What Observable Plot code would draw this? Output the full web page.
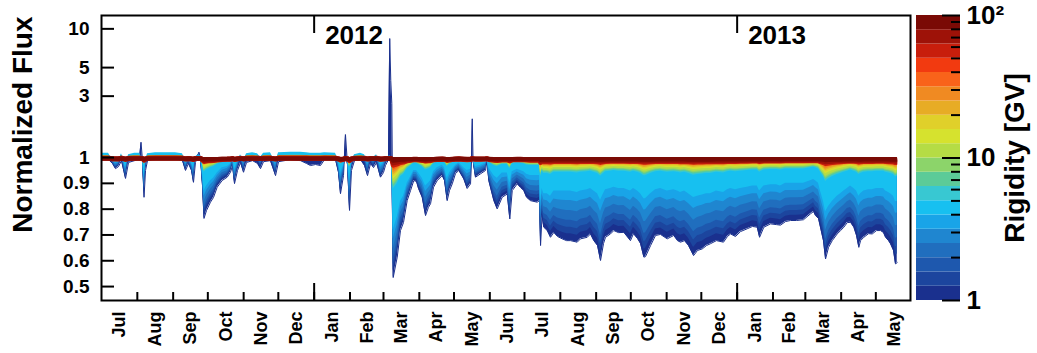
<!DOCTYPE html>
<html><head><meta charset="utf-8">
<script src="https://cdn.jsdelivr.net/npm/d3@7"></script>
<script src="https://cdn.jsdelivr.net/npm/@observablehq/plot@0.6"></script>
<style>
html,body{margin:0;padding:0;background:#fff;}
#chart{position:relative;width:1037px;height:353px;}
#chart svg{position:absolute;top:0;}
</style></head><body><div id="chart"></div>
<script>
// ---------- data ----------
const startDate = "2011-07-01";
const endDate = "2013-05-31";
// days since 2011-07-01
const dayIndex = [0.0, 6.1, 9.5, 12.1, 14.7, 17.3, 20.8, 23.4, 28.6, 32.9,
 34.2, 35.5, 36.8, 38.1, 39.8, 46.7, 55.4, 64.0, 70.1, 72.7,
 75.3, 77.9, 79.6, 81.3, 84.4, 85.7, 87.4, 88.7, 90.9, 94.3,
 96.9, 100.1, 104.4, 108.8, 111.6, 113.4, 115.1, 117.7, 120.3, 122.9,
 125.5, 130.7, 135.0, 137.6, 140.2, 146.2, 150.6, 153.2, 163.5, 172.2,
 177.4, 180.8, 185.2, 189.5, 193.0, 202.5, 205.1, 206.8, 209.4, 211.1,
 212.9, 214.6, 216.3, 218.9, 224.1, 227.6, 230.2, 232.8, 235.4, 238.0,
 241.4, 244.0, 245.7, 248.3, 249.4, 250.3, 251.2, 252.4, 255.9, 258.7,
 261.3, 264.5, 267.4, 270.2, 272.6, 274.3, 277.5, 280.4, 282.9, 284.7,
 287.3, 290.5, 294.8, 296.8, 299.1, 301.1, 303.5, 306.3, 309.2, 313.5,
 316.4, 319.3, 320.2, 320.8, 321.5, 323.6, 328.0, 332.3, 333.6, 335.1,
 339.5, 342.4, 346.7, 351.1, 353.3, 355.4, 359.7, 362.6, 365.4, 367.8,
 371.2, 377.0, 379.0, 379.9, 381.2, 382.7, 385.7, 388.5, 391.4, 394.6,
 398.6, 402.4, 405.8, 411.6, 414.5, 420.3, 423.1, 426.0, 429.2, 431.8,
 434.4, 436.1, 440.4, 443.3, 447.4, 452.0, 457.7, 460.3, 463.8, 466.4,
 469.3, 470.7, 475.1, 479.4, 483.7, 489.5, 495.2, 498.4, 501.0, 504.5,
 507.9, 512.3, 515.7, 519.8, 523.5, 526.9, 532.1, 538.2, 541.6, 544.3,
 548.6, 552.9, 558.7, 563.3, 567.4, 569.4, 573.1, 578.9, 584.1, 587.5,
 591.9, 596.2, 601.4, 607.4, 613.5, 616.1, 617.8, 620.4, 622.1, 624.7,
 626.5, 629.1, 632.3, 636.6, 639.5, 642.3, 645.3, 648.1, 651.0, 653.3,
 655.3, 656.8, 659.6, 663.7, 666.9, 670.6, 674.1, 676.7, 678.4, 681.0,
 682.7, 685.3, 687.0, 688.5];
// normalized flux of the lowest rigidity bin (lower / upper envelope)
const flux1GV = [0.996, 0.992, 0.977, 0.957, 0.965, 0.988, 0.919, 0.981, 0.988, 0.996,
 1.315, 0.988, 0.846, 0.950, 0.988, 0.996, 0.996, 0.996, 0.988, 0.950,
 0.977, 0.950, 0.904, 0.981, 1.099, 0.996, 0.891, 0.764, 0.795, 0.827,
 0.845, 0.885, 0.911, 0.924, 0.943, 0.969, 0.899, 0.950, 0.981, 0.943,
 0.981, 0.988, 0.977, 0.957, 0.984, 0.988, 0.930, 0.984, 0.992, 0.988,
 0.977, 0.969, 0.973, 0.969, 0.992, 0.992, 0.942, 0.860, 0.930, 1.509,
 0.969, 0.795, 0.950, 0.988, 0.992, 0.969, 0.930, 0.977, 0.961, 0.981,
 0.924, 0.942, 0.969, 0.992, 8.41, 3.97, 2.63, 0.535, 0.614, 0.717,
 0.748, 0.833, 0.872, 0.911, 0.907, 0.880, 0.846, 0.775, 0.807, 0.821,
 0.885, 0.911, 0.930, 0.911, 0.833, 0.872, 0.898, 0.938, 0.950, 0.917,
 0.880, 0.898, 0.988, 2.00, 0.988, 0.924, 0.937, 0.950, 0.988, 0.911,
 0.833, 0.801, 0.846, 0.859, 0.762, 0.872, 0.898, 0.884, 0.872, 0.846,
 0.833, 0.827, 0.833, 0.659, 0.775, 0.730, 0.717, 0.691, 0.710, 0.694,
 0.685, 0.678, 0.678, 0.672, 0.685, 0.691, 0.704, 0.678, 0.659, 0.601,
 0.667, 0.691, 0.704, 0.717, 0.709, 0.710, 0.678, 0.705, 0.686, 0.667,
 0.614, 0.616, 0.659, 0.698, 0.702, 0.685, 0.698, 0.678, 0.672, 0.678,
 0.659, 0.620, 0.640, 0.646, 0.659, 0.666, 0.678, 0.672, 0.694, 0.704,
 0.694, 0.713, 0.724, 0.733, 0.730, 0.691, 0.730, 0.743, 0.740, 0.738,
 0.752, 0.756, 0.756, 0.759, 0.782, 0.791, 0.775, 0.764, 0.730, 0.678,
 0.607, 0.652, 0.678, 0.704, 0.717, 0.730, 0.748, 0.749, 0.730, 0.698,
 0.652, 0.678, 0.691, 0.705, 0.704, 0.717, 0.717, 0.709, 0.691, 0.678,
 0.666, 0.640, 0.588, 0.593];
// normalized flux of the ~4.5 GV bin (cyan level)
const flux4GV = [1.08, 1.08, 0.99, 0.98, 0.985, 1.07, 0.963, 1.05, 1.08, 1.08,
 1.02, 1.0, 0.93, 0.98, 1.07, 1.09, 1.09, 1.09, 1.07, 0.98,
 1.0, 0.98, 0.96, 1.02, 1.03, 1.03, 0.94, 0.87, 0.89, 0.91,
 0.92, 0.94, 0.96, 0.965, 0.975, 1.0, 0.955, 0.985, 1.05, 0.985,
 1.07, 1.09, 1.07, 1.0, 1.08, 1.09, 0.98, 1.09, 1.10, 1.10,
 1.09, 1.08, 1.08, 1.08, 1.09, 1.08, 0.98, 0.94, 0.97, 1.02,
 0.99, 0.91, 0.98, 1.05, 1.08, 1.05, 0.98, 1.02, 1.0, 1.05,
 0.97, 0.98, 1.0, 1.02, 1.03, 1.0, 0.97, 0.72, 0.77, 0.83,
 0.85, 0.90, 0.925, 0.95, 0.95, 0.94, 0.92, 0.89, 0.90, 0.91,
 0.945, 0.96, 0.97, 0.96, 0.92, 0.94, 0.955, 0.97, 0.98, 0.96,
 0.95, 0.955, 0.99, 1.0, 0.99, 0.965, 0.97, 0.98, 0.99, 0.96,
 0.93, 0.92, 0.94, 0.94, 0.90, 0.945, 0.955, 0.95, 0.945, 0.935,
 0.93, 0.93, 0.93, 0.83, 0.88, 0.86, 0.86, 0.85, 0.87, 0.87,
 0.87, 0.87, 0.87, 0.865, 0.87, 0.875, 0.88, 0.87, 0.86, 0.835,
 0.86, 0.875, 0.88, 0.885, 0.88, 0.88, 0.87, 0.88, 0.87, 0.86,
 0.84, 0.84, 0.86, 0.875, 0.88, 0.87, 0.875, 0.87, 0.865, 0.87,
 0.86, 0.845, 0.85, 0.855, 0.86, 0.86, 0.87, 0.865, 0.875, 0.88,
 0.875, 0.88, 0.885, 0.89, 0.89, 0.87, 0.89, 0.895, 0.895, 0.89,
 0.90, 0.90, 0.90, 0.90, 0.91, 0.915, 0.91, 0.90, 0.87, 0.83,
 0.79, 0.81, 0.83, 0.85, 0.86, 0.87, 0.88, 0.89, 0.88, 0.87,
 0.85, 0.86, 0.87, 0.875, 0.875, 0.88, 0.88, 0.88, 0.87, 0.865,
 0.86, 0.85, 0.83, 0.83];
const binRigidity = [1.12, 1.41, 1.78, 2.24, 2.82, 3.55, 4.47, 5.62, 7.08, 8.91,
 11.2, 14.1, 17.8, 22.4, 28.2, 35.5, 44.7, 56.2, 70.8, 89.1];
const lowWeight = [0, 0.14, 0.27, 0.41, 0.61, 0.81, 1];           // bins 0-6: blend 1 GV -> 4.5 GV
const highResponse = [0.44, 0.41, 0.38, 0.35, 0.30, 0.27, 0.24, 0.21, 0.18, 0.15, 0.09, 0.06, 0.03]; // bins 7-19 vs 4.5 GV
const paletteThresholds = [1.259, 1.585, 1.995, 2.512, 3.162, 3.981, 5.012, 6.310, 7.943, 10,
 12.59, 15.85, 19.95, 25.12, 31.62, 39.81, 50.12, 63.10, 79.43];
const paletteColors = ["#1a308e", "#1c459e", "#1e58ae", "#206ebe", "#1f86d0", "#19a4e8", "#17c0f0",
 "#38c8d2", "#5ccb98", "#8cd46a", "#b5dc45", "#d6e22e", "#e0d02a", "#e7ac25", "#f08a22",
 "#f9631a", "#f23a10", "#c81e0c", "#9e1208", "#7a0a05"];
const yTickValues = [0.5, 0.6, 0.7, 0.8, 0.9, 1, 3, 5, 10];
const yTickLabels = ["0.5", "0.6", "0.7", "0.8", "0.9", "1", "3", "5", "10"];
const yDomain = [0.446, 12.7];
const monthLabels = ["Jul", "Aug", "Sep", "Oct", "Nov", "Dec", "Jan", "Feb", "Mar", "Apr", "May", "Jun",
 "Jul", "Aug", "Sep", "Oct", "Nov", "Dec", "Jan", "Feb", "Mar", "Apr", "May"];
const yearLabels = ["2012", "2013"];
const yearStarts = ["2012-01-01", "2013-01-01"];
const cbMajor = [1, 10, 100];
const cbMajorLabels = ["1", "10", "10\u00B2"];
const cbMinor = [2, 3, 4, 5, 6, 7, 8, 9, 20, 30, 40, 50, 60, 70, 80, 90];

// ---------- build ----------
const font = "font-family:'Liberation Sans',Arial,Helvetica,sans-serif;background:transparent;overflow:visible";
// axis: logarithmic above 1, linear below 1 (one decade ~ 0.5 flux units)
const fy = v => v >= 1 ? Math.log10(v) : 2.005 * (v - 1);
const t0 = new Date(startDate + "T00:00Z").getTime();
const toDate = d => new Date(t0 + d * 864e5);
const xStart = new Date(startDate + "T00:00Z"), xEnd = new Date(endDate + "T00:00Z");

const series = binRigidity.map((R, b) => dayIndex.map((d, j) => {
  const L = flux1GV[j], M = flux4GV[j];
  let v;
  if (b < lowWeight.length) {
    const w = L > 1.2 ? (b === 0 ? 0 : 1) : lowWeight[b];
    v = L + w * (M - L);
  } else {
    v = 1 + (M - 1) * highResponse[b - lowWeight.length];
  }
  return {date: toDate(d), R, base: fy(1), y: fy(v)};
}));

const W = 1037, H = 353, mL = 101, mR = 127, mT = 15, mB = 53;
const plotW = W - mL - mR, plotH = H - mT - mB;
const color = {type: "threshold", domain: paletteThresholds, range: paletteColors};

const monthStarts = d3.utcMonth.range(xStart, new Date(Date.UTC(2013, 5, 1)));
const monthMids = monthStarts.map(m => new Date((m.getTime() + d3.utcMonth.offset(m, 1).getTime()) / 2));
const yearDates = yearStarts.map(s => new Date(s + "T00:00Z"));

const dataMarks = series.flatMap((rows, b) => {
  const marks = [Plot.areaY(rows, {x: "date", y1: "base", y2: "y", fill: "R", clip: true})];
  if (b === 0) marks.push(Plot.line(rows, {x: "date", y: "y", stroke: "R", strokeWidth: 1, clip: true}));
  if (b >= 17) marks.push(Plot.line(rows, {x: "date", y: "y", stroke: "R", dy: 1, strokeWidth: b === 19 ? 4 : 5,
    strokeLinecap: "butt", clip: true}));
  return marks;
});

const main = Plot.plot({
  width: W, height: H, marginLeft: mL, marginRight: mR, marginTop: mT, marginBottom: mB,
  style: font,
  x: {type: "utc", domain: [xStart, xEnd], axis: null},
  y: {type: "linear", domain: yDomain.map(fy), axis: null},
  color,
  marks: [
    ...dataMarks,
    Plot.tickY(yTickValues, {y: fy, insetRight: plotW - 13, strokeWidth: 2}),
    Plot.tickX(monthStarts.slice(1), {x: d => d, insetTop: plotH - 8, strokeWidth: 2}),
    Plot.tickX(yearDates, {x: d => d, insetTop: plotH - 17, strokeWidth: 2}),
    Plot.tickX(yearDates, {x: d => d, insetBottom: plotH - 18, strokeWidth: 2}),
    Plot.frame({stroke: "black", strokeWidth: 2}),
    Plot.text(yTickValues, {y: fy, text: (d, i) => yTickLabels[i], frameAnchor: "left", dx: -12,
      textAnchor: "end", lineAnchor: "middle", fontSize: 19, fontWeight: "bold", fill: "black"}),
    Plot.text(monthMids, {x: d => d, text: (d, i) => monthLabels[i], frameAnchor: "bottom", dy: 11,
      rotate: -90, textAnchor: "end", lineAnchor: "middle", fontSize: 18, fontWeight: "bold", fill: "black"}),
    Plot.text(yearDates, {x: d => d, text: (d, i) => yearLabels[i], frameAnchor: "top", dx: 11, dy: 10,
      textAnchor: "start", lineAnchor: "top", fontSize: 26, fontWeight: "bold", fill: "black"}),
    Plot.text(["Normalized Flux"], {frameAnchor: "top-left", dx: -78, dy: 1, rotate: -90,
      textAnchor: "end", lineAnchor: "middle", fontSize: 28, fontWeight: "bold", fill: "black"})
  ]
});
main.style.left = "0px";

const edges = [1, ...paletteThresholds, 100];
const bands = binRigidity.map((R, i) => ({lo: edges[i], hi: edges[i + 1], R}));
const cbW = 44;
const bar = Plot.plot({
  width: 132, height: H, marginLeft: 11, marginRight: 132 - 11 - cbW, marginTop: mT, marginBottom: mB,
  style: font,
  x: {domain: [0, 1], axis: null},
  y: {type: "log", domain: [1, 100], axis: null},
  color,
  marks: [
    Plot.rect(bands, {x1: () => 0, x2: () => 1, y1: "lo", y2: "hi", fill: "R"}),
    Plot.tickY(cbMinor, {y: d => d, insetLeft: cbW - 9, strokeWidth: 2}),
    Plot.tickY(cbMajor, {y: d => d, insetLeft: cbW - 18, strokeWidth: 2}),
    Plot.text(cbMajor, {y: d => d, text: (d, i) => cbMajorLabels[i], frameAnchor: "right", dx: 6,
      textAnchor: "start", lineAnchor: "middle", fontSize: 26, fontWeight: "bold", fill: "black"}),
    Plot.text(["Rigidity [GV]"], {frameAnchor: "right", dx: 55, rotate: -90,
      textAnchor: "middle", lineAnchor: "middle", fontSize: 28, fontWeight: "bold", fill: "black"})
  ]
});
bar.style.left = "905px";

const chart = document.getElementById("chart");
chart.appendChild(main);
chart.appendChild(bar);
</script></body></html>
